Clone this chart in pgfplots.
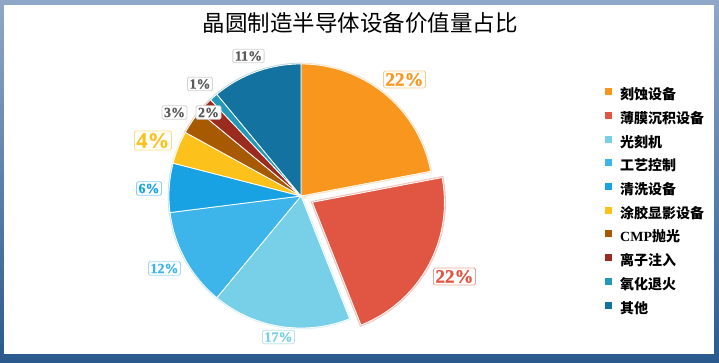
\documentclass[border=0pt]{standalone}
\usepackage{pgfplots}
\pgfplotsset{compat=1.18}
\usepackage{fontspec}
\setmainfont{Liberation Serif}
\newfontfamily\cjk{Noto Sans CJK SC}
\newfontfamily\labfont[FakeBold=0.8]{Liberation Serif}
\definecolor{frametop}{HTML}{90A8C8}
\definecolor{framebot}{HTML}{2A598E}
\definecolor{c1}{HTML}{F8961D}
\definecolor{c2}{HTML}{E05642}
\definecolor{c3}{HTML}{78CFE8}
\definecolor{c4}{HTML}{3DB5EA}
\definecolor{c5}{HTML}{18A2E4}
\definecolor{c6}{HTML}{FCC21B}
\definecolor{c7}{HTML}{A85A03}
\definecolor{c8}{HTML}{9C2B1F}
\definecolor{c9}{HTML}{2398B8}
\definecolor{c10}{HTML}{13729F}
\definecolor{labgray}{HTML}{5A5A5A}
\tikzset{lab/.style={fill=white, inner sep=2pt, rounded corners=1.5pt, line width=0.8pt,
    font=\labfont\bfseries\fontsize{14}{14}\selectfont}}
% #1 colour, #2 cumulative share before the slice, #3 share of the slice
\newcommand\halo[3]{\addplot[forget plot, draw=#1!30, line width=2.4pt, fill=none,
  domain=90-3.6*(#2+#3):90-3.6*(#2), samples=60]
  ({301+132*cos(x)},{196-132*sin(x)}) -- (301,196) -- cycle;}
\newcommand\slice[4]{\addplot[fill=#1, draw=white, line width=0.8pt,
  domain=90-3.6*(#2+#3):90-3.6*(#2), samples=60]
  ({301+132*cos(x)},{196-132*sin(x)}) -- (301,196) -- cycle;
  \addlegendentry{#4}}
\begin{document}
\begin{tikzpicture}
\begin{axis}[
  width=719pt, height=363pt, scale only axis,
  xmin=0, xmax=719, ymin=0, ymax=363, y dir=reverse,
  hide axis, clip=false,
  legend image code/.code={\fill[#1, draw=none] (0pt,1.5pt) rectangle (7pt,8.5pt);},
  legend cell align=left,
  legend style={draw=none, fill=none, at={(axis cs:605,88)}, anchor=north west,
    inner sep=0pt, row sep=8.2pt, column sep=0pt,
    nodes={inner sep=0pt, text height=10pt, text depth=4pt},
    /tikz/every odd column/.style={column sep=8pt},
    font=\cjk\bfseries\fontsize{14}{14}\selectfont},
]
\shade[top color=frametop, bottom color=framebot] (0,0) rectangle (719,363);
\fill[white] (4,5) rectangle (714,354);
\node[font=\cjk\fontsize{22.5}{24}\selectfont] at (360,23) {晶圆制造半导体设备价值量占比};
% halos
\halo{c1}{0}{22}
\addplot[forget plot, draw=c2!35, line width=3pt, fill=none,
  domain=90-3.6*(22+22):90-3.6*(22), samples=60]
  ({312.4+132*cos(x)},{202.3-132*sin(x)}) -- (312.4,202.3) -- cycle;
\halo{c3}{44}{17}
\halo{c4}{61}{12}
\halo{c5}{73}{6}
\halo{c6}{79}{4}
\halo{c7}{83}{3}
\halo{c8}{86}{2}
\halo{c9}{88}{1}
\halo{c10}{89}{11}
% slices
\slice{c1}{0}{22}{刻蚀设备}
\addplot[fill=c2, draw=white, line width=0.8pt,
  domain=90-3.6*(22+22):90-3.6*(22), samples=60]
  ({312.4+132*cos(x)},{202.3-132*sin(x)}) -- (312.4,202.3) -- cycle;
\addlegendentry{薄膜沉积设备}
\slice{c3}{44}{17}{光刻机}
\slice{c4}{61}{12}{工艺控制}
\slice{c5}{73}{6}{清洗设备}
\slice{c6}{79}{4}{涂胶显影设备}
\slice{c7}{83}{3}{{\rmfamily\bfseries CMP}抛光}
\slice{c8}{86}{2}{离子注入}
\slice{c9}{88}{1}{氧化退火}
\slice{c10}{89}{11}{其他}
% labels
\node[lab, text=c1, draw=c1!50, font=\labfont\bfseries\fontsize{19}{19}\selectfont] at (404.5,79.5) {22\%};
\node[lab, text=c2, draw=c2!55, font=\labfont\bfseries\fontsize{19}{19}\selectfont] at (454.5,276.5) {22\%};
\node[lab, text=c3, draw=c3!55] at (278.5,337) {17\%};
\node[lab, text=c4, draw=c4!50] at (164.5,268.5) {12\%};
\node[lab, text=c5, draw=c5!50] at (149,188.5) {6\%};
\node[lab, text=c6, draw=c6!55, font=\labfont\bfseries\fontsize{22}{22}\selectfont] at (153,140.5) {4\%};
\node[lab, text=labgray, draw=gray!35] at (174.5,112.5) {3\%};
\node[lab, text=labgray, draw=gray!35] at (208.5,112.5) {2\%};
\node[lab, text=labgray, draw=gray!35] at (200,84) {1\%};
\node[lab, text=labgray, draw=gray!35] at (248.5,56) {11\%};
\end{axis}
\end{tikzpicture}
\end{document}
